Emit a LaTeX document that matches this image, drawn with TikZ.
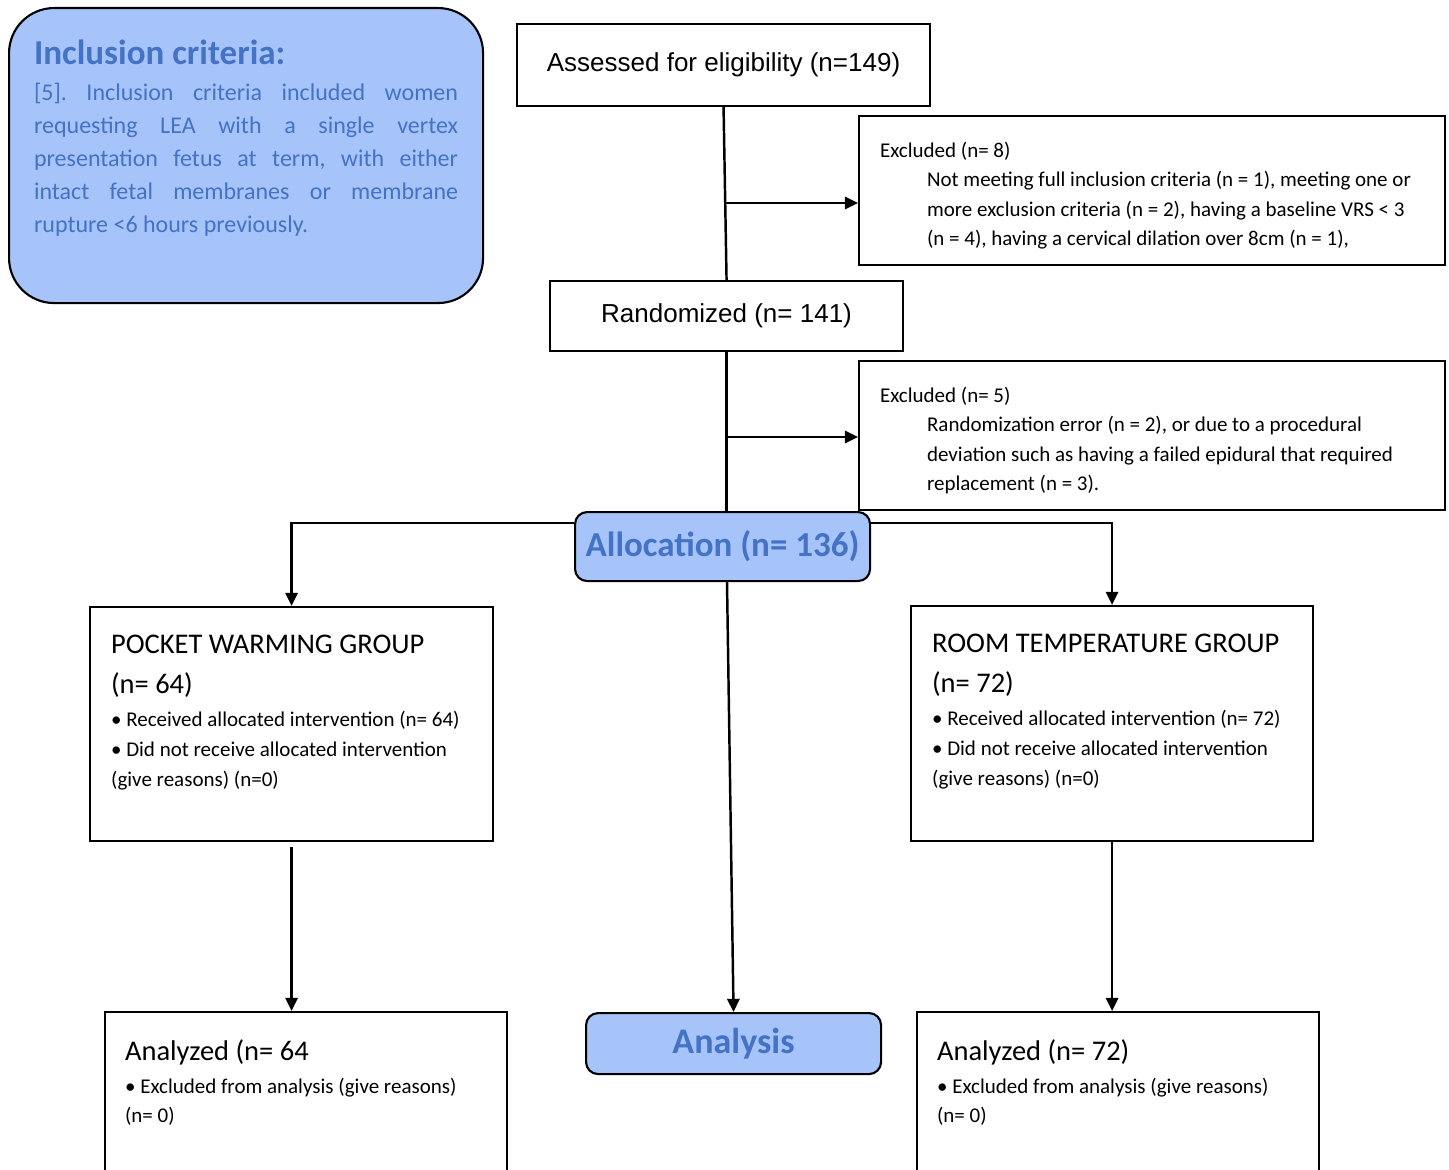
\documentclass[tikz,border=0pt]{standalone}
\usepackage{fontspec}
\setmainfont{Carlito}
\newfontfamily\arialfont{Liberation Sans}
\usetikzlibrary{arrows.meta,calc}
\definecolor{ct_fill}{RGB}{166,196,250}
\definecolor{ct_blue}{RGB}{68,114,196}
\newdimen\pxu
\pxu=0.02cm
\newcommand{\fs}[2]{\fontsize{#1\pxu}{#2\pxu}\selectfont}
\newcommand{\inbox}[3]{\begin{minipage}[t][#2\pxu][t]{#1\pxu}#3\end{minipage}}
\tikzstyle{wb}=[anchor=north west,draw=black,line width=1.2pt,
  inner xsep=21\pxu,inner ysep=0pt]
\tikzstyle{bb}=[anchor=north west,draw=black,line width=1.2pt,
  fill=ct_fill,text=ct_blue,inner sep=0pt]
\tikzstyle{ab}=[anchor=north west,draw=black,line width=1.2pt,
  inner sep=0pt,font=\arialfont\fs{26}{30}]
\tikzstyle{ln}=[line width=1.4pt]
\tikzstyle{ar}=[line width=1.4pt,-{Triangle[length=7.5pt,width=7pt]}]

\begin{document}
\frenchspacing
\begin{tikzpicture}[x=0.02cm,y=-0.02cm]
            \useasboundingbox (0,0) rectangle (1449,1169);
            \node [style=bb,rounded corners=45\pxu,inner xsep=25\pxu] (0) at (8,7)
              {\inbox{424}{295}{\vspace*{32\pxu}\fs{35}{40}\textbf{Inclusion criteria:}\par
               \vspace{3\pxu}\fs{24}{33}[5]. Inclusion criteria included women\linebreak
               requesting LEA with a single vertex\linebreak
               presentation fetus at term, with either\linebreak
               intact fetal membranes or membrane\linebreak
               rupture <6 hours previously.}};
            \node [style=ab,minimum width=413\pxu,minimum height=82\pxu] (1) at (516,23)
              {\raisebox{1.5\pxu}{Assessed for eligibility (n=149)}};
            \node [style=wb] (2) at (858,115)
              {\inbox{544}{149}{\vspace*{26\pxu}\fs{21}{29.5}Excluded (n= 8)\par
               \leftskip=47\pxu Not meeting full inclusion criteria (n = 1), meeting one or\\
               more exclusion criteria (n = 2), having a baseline VRS < 3\\
               (n = 4), having a cervical dilation over 8cm (n = 1),}};
            \node [style=ab,minimum width=353\pxu,minimum height=70\pxu] (3) at (549,280)
              {Randomized (n= 141)};
            \node [style=wb] (4) at (858,360)
              {\inbox{544}{149}{\vspace*{26\pxu}\fs{21}{29.5}Excluded (n= 5)\par
               \leftskip=47\pxu Randomization error (n = 2), or due to a procedural\\
               deviation such as having a failed epidural that required\\
               replacement (n = 3).}};
            \node [style=bb,rounded corners=12\pxu,minimum width=295\pxu,minimum height=69\pxu,
              font=\bfseries\fs{35}{40}] (5) at (574,511) {Allocation (n= 136)};
            \node [style=wb] (6) at (89,606)
              {\inbox{361}{234}{\vspace*{28\pxu}\fs{28.5}{40}POCKET WARMING GROUP\\(n= 64)\par
               \vspace{3\pxu}\fs{21}{30}• Received allocated intervention (n= 64)\\
               • Did not receive allocated intervention\\(give reasons) (n=0)}};
            \node [style=wb] (7) at (910,605)
              {\inbox{360}{235}{\vspace*{28\pxu}\fs{28.5}{40}ROOM TEMPERATURE GROUP\\(n= 72)\par
               \vspace{3\pxu}\fs{21}{30}• Received allocated intervention (n= 72)\\
               • Did not receive allocated intervention\\(give reasons) (n=0)}};
            \node [style=bb,rounded corners=12\pxu,minimum width=295\pxu,minimum height=61\pxu,
              font=\bfseries\fs{36}{40}] (8) at (585,1012) {\raisebox{-4\pxu}{Analysis}};
            \node [style=wb,inner xsep=20\pxu] (9) at (104,1011)
              {\inbox{362}{220}{\vspace*{28\pxu}\fs{28.5}{40}Analyzed (n= 64\par
               \vspace{4\pxu}\fs{21}{29}• Excluded from analysis (give reasons)\\(n= 0)}};
            \node [style=wb,inner xsep=20\pxu] (10) at (916,1011)
              {\inbox{362}{220}{\vspace*{28\pxu}\fs{28.5}{40}Analyzed (n= 72)\par
               \vspace{4\pxu}\fs{21}{29}• Excluded from analysis (give reasons)\\(n= 0)}};
            \coordinate (c1) at (724,203);
            \coordinate (c2) at (727,437);
            \draw [style=ln] (1.south) -- (3.north);
            \draw [style=ar] (c1) -- (c1 -| 2.west);
            \draw [style=ln] (3.south) -- (3.south |- 5.north);
            \draw [style=ar] (c2) -- (c2 -| 4.west);
            \draw [style=ar] ($(5.north west)+(0,12)$) -| (6.north);
            \draw [style=ar] ($(5.north east)+(0,12)$) -| (7.north);
            \draw [style=ar] (5.south -| c2) -- (8.north);
            \draw [style=ar,shorten <=2.8pt] (6.south) -- (6.south |- 9.north);
            \draw [style=ar] (7.south) -- (7.south |- 10.north);
    \end{tikzpicture}
\end{document}
